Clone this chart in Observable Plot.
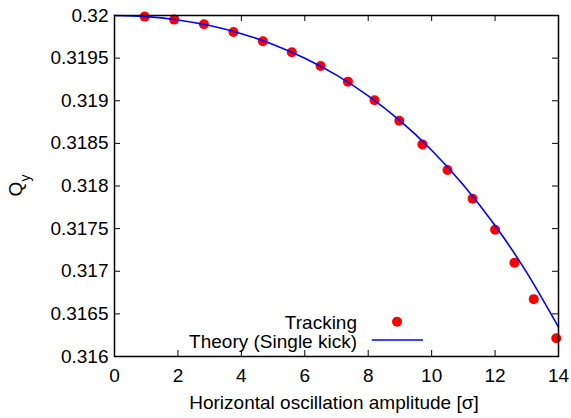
<!DOCTYPE html>
<html><head><meta charset="utf-8">
<script src="https://cdn.jsdelivr.net/npm/d3@7"></script>
<script src="https://cdn.jsdelivr.net/npm/@observablehq/plot@0.6"></script>
<style>body{margin:0;background:#fff}</style>
</head><body><div id="chart"></div>
<script>
// Tracking results (red dots)
const trackX  = [0.95, 1.88, 2.82, 3.75, 4.68, 5.59, 6.50, 7.36, 8.20, 8.98, 9.71, 10.50, 11.29, 12.00, 12.61, 13.22, 13.93];
const trackQy = [0.319987, 0.319952, 0.319897, 0.319806, 0.319697, 0.319568, 0.319407, 0.319224, 0.319005, 0.318766, 0.318488, 0.318187, 0.317851, 0.317487, 0.317100, 0.316673, 0.316215];
// Theory (single kick) curve
const theoryX  = [0, 1, 2, 3, 4, 5, 6, 7, 8, 9, 10, 11, 12, 13, 14];
const theoryQy = [0.32, 0.319987, 0.319948, 0.319882, 0.319787, 0.319661, 0.319499, 0.319300, 0.319057, 0.318766, 0.318420, 0.318012, 0.317536, 0.316983, 0.316344];
// Ticks and texts
const xTicks = [0, 2, 4, 6, 8, 10, 12, 14];
const yTicks = [0.316, 0.3165, 0.317, 0.3175, 0.318, 0.3185, 0.319, 0.3195, 0.32];
const xLabel = "Horizontal oscillation amplitude [σ]";
const yLabelMain = "Q";
const yLabelSub = "y";
const legendTracking = "Tracking";
const legendTheory = "Theory (Single kick)";

const tracking = trackX.map((x, i) => ({x, qy: trackQy[i]}));
const theory = theoryX.map((x, i) => ({x, qy: theoryQy[i]}));

const FONT = "'Liberation Sans', Arial, Helvetica, sans-serif";
const RED = "#ff0000", BLUE = "#0000ff";
const W = 571, H = 418, mL = 114, mR = 13, mT = 15, mB = 62;
const innerW = W - mL - mR, innerH = H - mT - mB;
const tickLen = 6;

function decorations(index, scales, values, dims) {
  const g = d3.create("svg:g")
    .attr("font-family", FONT).attr("font-size", 19).attr("fill", "black");
  const right = dims.width - dims.marginRight;
  const bottom = dims.height - dims.marginBottom;
  const cx = (dims.marginLeft + right) / 2;
  // x label
  g.append("text").attr("x", cx - 2).attr("y", bottom + 53)
    .attr("text-anchor", "middle").text(xLabel);
  // y label with subscript
  const yl = g.append("text")
    .attr("transform", `translate(21.7,${(dims.marginTop + bottom) / 2}) rotate(-90)`)
    .attr("text-anchor", "middle");
  yl.append("tspan").text(yLabelMain);
  yl.append("tspan").attr("font-size", 14).attr("dy", 8.6).text(yLabelSub);
  // legend
  g.append("text").attr("x", right - 201).attr("y", bottom - 27)
    .attr("text-anchor", "end").text(legendTracking);
  g.append("circle").attr("cx", right - 161).attr("cy", bottom - 34.3)
    .attr("r", 5).attr("fill", RED);
  g.append("text").attr("x", right - 201).attr("y", bottom - 7.7)
    .attr("text-anchor", "end").text(legendTheory);
  g.append("line").attr("x1", right - 186.3).attr("x2", right - 135)
    .attr("y1", bottom - 16).attr("y2", bottom - 16)
    .attr("stroke", BLUE).attr("stroke-width", 1.6);
  return g.node();
}

const chart = Plot.plot({
  width: W, height: H,
  marginLeft: mL, marginRight: mR, marginTop: mT, marginBottom: mB,
  style: {fontFamily: FONT, fontSize: "19px", background: "white", color: "black", overflow: "visible"},
  x: {domain: [0, 14], ticks: xTicks, tickSize: 0, tickPadding: 12, label: null},
  y: {domain: [0.316, 0.32], ticks: yTicks, tickSize: 0, tickPadding: 6, label: null,
      tickFormat: d => String(+d.toFixed(4))},
  marks: [
    // inward ticks on all four sides
    Plot.ruleY(yTicks, {y: d => d, insetRight: innerW - tickLen, stroke: "black", strokeWidth: 1}),
    Plot.ruleY(yTicks, {y: d => d, insetLeft: innerW - tickLen, stroke: "black", strokeWidth: 1}),
    Plot.ruleX(xTicks, {x: d => d, insetTop: innerH - tickLen, stroke: "black", strokeWidth: 1}),
    Plot.ruleX(xTicks, {x: d => d, insetBottom: innerH - tickLen, stroke: "black", strokeWidth: 1}),
    Plot.dot(tracking, {x: "x", y: "qy", r: 5, fill: RED, stroke: null}),
    Plot.line(theory, {x: "x", y: "qy", stroke: BLUE, strokeWidth: 1.6, curve: "natural"}),
    Plot.frame({stroke: "black", strokeWidth: 1.5}),
    decorations
  ]
});
document.getElementById("chart").appendChild(chart);
</script>
</body></html>
